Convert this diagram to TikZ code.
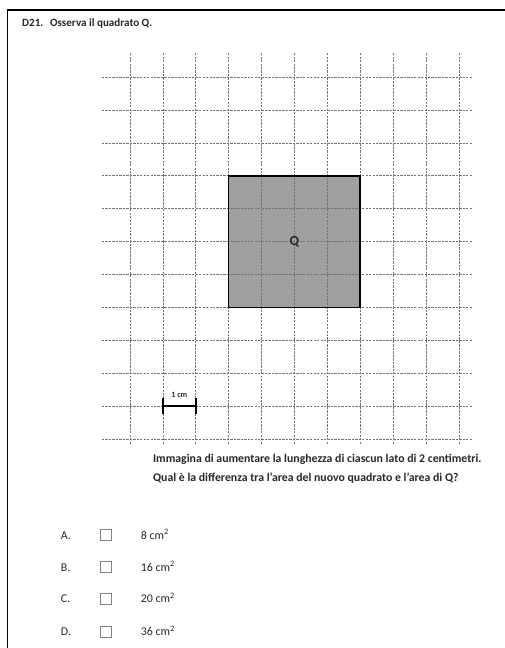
\documentclass[tikz,border=0pt]{standalone}
\usepackage{fontspec}
\setmainfont{Carlito}
\usepackage{xcolor}
\usepackage{tikz}
\usetikzlibrary{positioning}
\definecolor{gridgray}{RGB}{115,115,115}
\definecolor{quadgray}{RGB}{160,160,160}
\definecolor{textgray}{RGB}{40,40,40}
\tikzstyle{tsBold} = [
    text=textgray,
    font=\bfseries\fontsize{10.2}{12}\selectfont
]
\tikzstyle{tsPlain} = [
    text=textgray,
    font=\fontsize{10.3}{12}\selectfont
]
\tikzstyle{tsGrid} = [
    gridgray,
    dash pattern=on 2pt off 1pt,
    line width=0.5pt]
\tikzstyle{tsCheckbox} = [
    rectangle,
    draw=gray,
    line width=0.5pt,
    minimum size=0.33cm,
    inner sep=0pt]

\begin{document}
\begin{tikzpicture}

    \useasboundingbox (0,0) rectangle (15.35,19.70);

    % open frame, cut by the page edge
    \coordinate (frameR) at (15.35,19.39);
    \coordinate (frameTL) at (0.23,19.39);
    \coordinate (frameB) at (0.23,0);
    \draw[line width=1.2pt] (frameR) -- (frameTL) -- (frameB);

    \node[  tsBold,
            font=\bfseries\fontsize{9.6}{11}\selectfont,
            anchor=base west] (title) at (0.55,18.88)
            {D21.\hspace{0.6em}Osserva il quadrato Q.};

    \begin{scope}[shift={(3.951,6.356)}]
        \fill[quadgray] (3,4) rectangle (7,8);
        \draw[tsGrid] (-0.85,-0.15) grid (10.43,11.76);

        \node[  rectangle,
                minimum size=4cm,
                draw=black,
                line width=1.3pt,
                fill=none,
                tsBold,
                font=\bfseries\fontsize{12}{14}\selectfont] (quad) at (5,6) {Q};

        % scale bar
        \coordinate (barL) at (1,1);
        \coordinate (barR) at (2,1);
        \draw[line width=1.8pt] (barL) -- (barR);
        \draw[line width=1.5pt] ([yshift=-0.24cm]barL) -- ([yshift=0.24cm]barL);
        \draw[line width=1.5pt] ([yshift=-0.24cm]barR) -- ([yshift=0.24cm]barR);
        \node[  tsBold,
                font=\bfseries\fontsize{7}{8}\selectfont,
                inner sep=1pt] (barlabel) at (1.5,1.35) {1 cm};
    \end{scope}

    \node[  tsBold,
            anchor=base west] (quest1) at (4.53,5.65)
            {Immagina di aumentare la lunghezza di ciascun lato di 2 centimetri.};
    \node[  tsBold,
            anchor=base west] (quest2) at ([yshift=-0.58cm]quest1.base west)
            {Qual è la differenza tra l'area del nuovo quadrato e l'area di Q?};

    \node[tsPlain, anchor=base west] (optA) at (1.73,3.31) {A.};
    \node[tsCheckbox] (boxA) at (3.21,3.43) {};
    \node[tsPlain, anchor=base west] (valA) at (4.16,3.31) {8 cm\textsuperscript{2}};

    \node[tsPlain, anchor=base west] (optB) at (1.73,2.34) {B.};
    \node[tsCheckbox] (boxB) at (3.21,2.46) {};
    \node[tsPlain, anchor=base west] (valB) at (4.16,2.34) {16 cm\textsuperscript{2}};

    \node[tsPlain, anchor=base west] (optC) at (1.73,1.37) {C.};
    \node[tsCheckbox] (boxC) at (3.21,1.49) {};
    \node[tsPlain, anchor=base west] (valC) at (4.16,1.37) {20 cm\textsuperscript{2}};

    \node[tsPlain, anchor=base west] (optD) at (1.73,0.37) {D.};
    \node[tsCheckbox] (boxD) at (3.21,0.49) {};
    \node[tsPlain, anchor=base west] (valD) at (4.16,0.37) {36 cm\textsuperscript{2}};

\end{tikzpicture}
\end{document}
